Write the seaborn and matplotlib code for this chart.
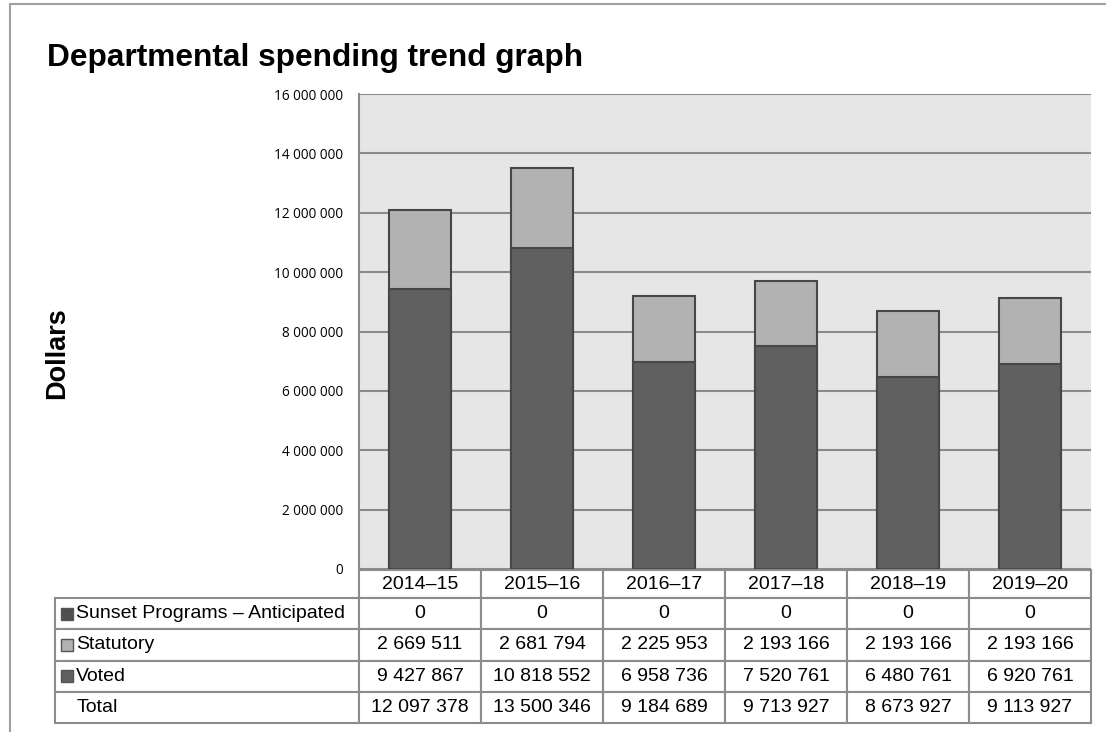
import numpy as np
import pandas as pd
import seaborn as sns
import matplotlib.pyplot as plt
from matplotlib.patches import Rectangle
from matplotlib.lines import Line2D

# data
years = ['2014–15', '2015–16', '2016–17', '2017–18', '2018–19', '2019–20']
sunset = [0, 0, 0, 0, 0, 0]
statutory = [2669511, 2681794, 2225953, 2193166, 2193166, 2193166]
voted = [9427867, 10818552, 6958736, 7520761, 6480761, 6920761]
row_names = ['Sunset Programs – Anticipated', 'Statutory', 'Voted', 'Total']

df = pd.DataFrame({'year': years, 'sunset': sunset, 'statutory': statutory, 'voted': voted})
df['total'] = df['sunset'] + df['statutory'] + df['voted']

dark = '#606060'
light = '#b2b2b2'
edge = '#474747'
grid_col = '#8a8a8a'

sns.set_style('white')
plt.rcParams['font.family'] = ['Liberation Sans', 'DejaVu Sans']
plt.rcParams['text.color'] = 'black'
plt.rcParams['ytick.color'] = 'black'

W, H = 1106, 732
fig = plt.figure(figsize=(W / 100, H / 100), dpi=100)

# axes box in pixels
ax_l, ax_r, ax_t, ax_b = 359, 1091, 94, 569
ax = fig.add_axes([ax_l / W, 1 - ax_b / H, (ax_r - ax_l) / W, (ax_b - ax_t) / H])
ax.set_facecolor('#e6e6e6')

# stacked bars: total (light, statutory on top) then voted (dark) over it
sns.barplot(data=df, x='year', y='total', color=light, edgecolor=edge, linewidth=1.5,
            width=0.51, saturation=1, ax=ax, zorder=3)
sns.barplot(data=df, x='year', y='voted', color=dark, edgecolor=edge, linewidth=1.5,
            width=0.51, saturation=1, ax=ax, zorder=3)

ax.set_ylim(0, 16000000)
ax.set_xlim(-0.5, len(years) - 0.5)
ticks = np.arange(0, 16000001, 2000000)
ax.set_yticks(ticks)
ax.set_yticklabels([f'{int(t):,}'.replace(',', ' ') for t in ticks])
ax.tick_params(axis='y', length=0, pad=11.5, labelsize=9.8, labelfontfamily='Open Sans')
ax.set_xticks(range(len(years)))
ax.set_xticklabels([''] * len(years))
ax.tick_params(axis='x', length=0)
ax.set_xlabel('')
ax.set_ylabel('')
ax.yaxis.grid(True, color=grid_col, linewidth=1.5)
ax.set_axisbelow(True)
for s in ['top', 'right', 'bottom']:
    ax.spines[s].set_visible(False)
ax.spines['left'].set_color(grid_col)
ax.spines['left'].set_linewidth(1.5)

# data table under the bars (first column holds the row names)
fmt = lambda v: f'{v:,}'.replace(',', ' ')
series = [df['sunset'], df['statutory'], df['voted'], df['total']]
cells = [[name] + [fmt(v) for v in s] for name, s in zip(row_names, series)]

tb_l, tb_t, tb_b = 55, 570, 723
axw, axh = ax_r - ax_l, ax_b - ax_t
bbox = [(tb_l - ax_l) / axw, (ax_b - tb_b) / axh, (ax_r - tb_l) / axw, (tb_b - tb_t) / axh]
tbl = ax.table(cellText=cells, colLabels=[''] + years, cellLoc='center', bbox=bbox)
tbl.auto_set_font_size(False)
tbl.set_fontsize(14)
for (r, c), cell in tbl.get_celld().items():
    cell.set_width(304 if c == 0 else 122)
    cell.set_height(28 if r == 0 else 31)
    cell.set_edgecolor('#8c8c8c')
    cell.set_linewidth(1.5)
    if c == 0:
        cell.get_text().set_horizontalalignment('left')
        cell.PAD = 0.069 if r < 4 else 0.072
        if r == 0:
            cell.visible_edges = 'open'
            cell.set_facecolor('none')

# legend swatches in the row-name cells
row_centres = [614, 645, 676]
sw_cols = ['#4f4f4f', light, dark]
for yc, col in zip(row_centres, sw_cols):
    fig.patches.append(Rectangle((61 / W, 1 - (yc + 6) / H), 12 / W, 12 / H,
                                 transform=fig.transFigure, facecolor=col,
                                 edgecolor='#555555', linewidth=1.0, zorder=5))

# titles
fig.text(47 / W, 1 - 66 / H, 'Departmental spending trend graph', fontsize=22.8,
         fontweight='bold', ha='left', va='baseline')
fig.text(57 / W, 1 - 353.5 / H, 'Dollars', fontsize=19.5, fontweight='bold',
         rotation=90, ha='center', va='center')

# outer frame (left and top edges)
fig.add_artist(Line2D([9.5 / W, 9.5 / W], [0, 1 - 4 / H], transform=fig.transFigure,
                      color='#a0a0a0', linewidth=1.5))
fig.add_artist(Line2D([9.5 / W, 1], [1 - 4 / H, 1 - 4 / H], transform=fig.transFigure,
                      color='#a0a0a0', linewidth=1.5))

fig.savefig('out.png', dpi=100)
